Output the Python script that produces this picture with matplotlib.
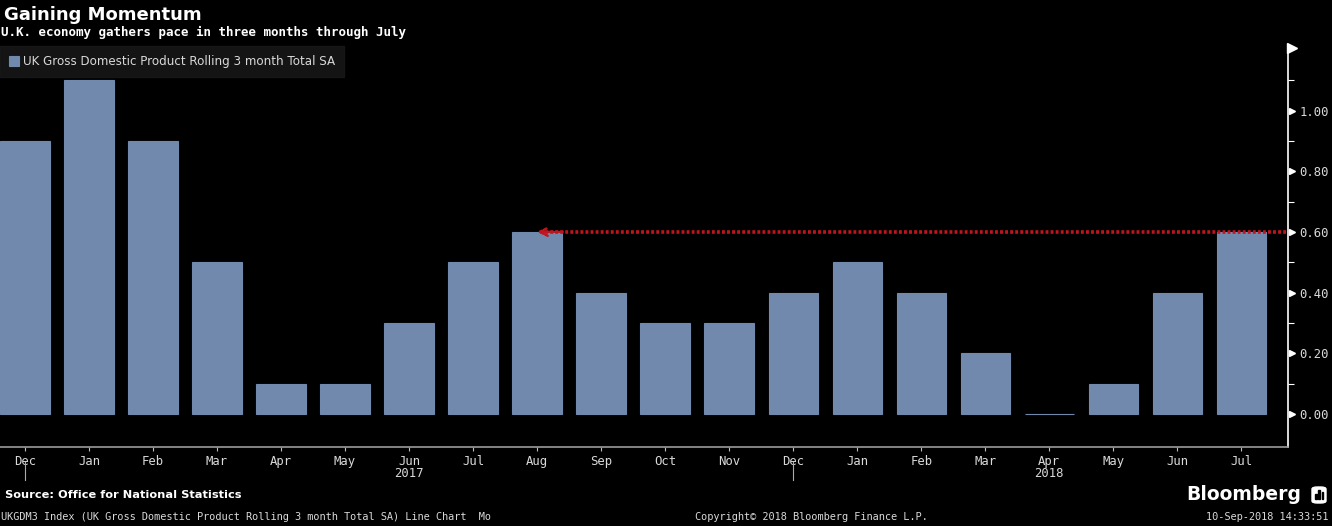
import numpy as np
import matplotlib
matplotlib.use("Agg")
import matplotlib.pyplot as plt
from matplotlib.patches import Rectangle, FancyBboxPatch
from matplotlib.transforms import blended_transform_factory

# data: rolling 3-month GDP growth, Dec 2016 .. Jul 2018
months = ["Dec", "Jan", "Feb", "Mar", "Apr", "May", "Jun", "Jul", "Aug", "Sep",
          "Oct", "Nov", "Dec", "Jan", "Feb", "Mar", "Apr", "May", "Jun", "Jul"]
values = [0.9, 1.1, 0.9, 0.5, 0.1, 0.1, 0.3, 0.5, 0.6, 0.4,
          0.3, 0.3, 0.4, 0.5, 0.4, 0.2, 0.0, 0.1, 0.4, 0.6]
year_labels = ["2017", "2018"]
year_label_pos = [6, 16]
year_breaks = [0, 12]
y_ticks = [0.0, 0.2, 0.4, 0.6, 0.8, 1.0]
ref_level = 0.6
ref_from = 8

BG = "#000000"
BAR = "#7189ad"
TXT = "#d9d9d9"
RED = "#c0151e"
MONO = "DejaVu Sans Mono"

W, H = 1332, 526
fig = plt.figure(figsize=(W / 100, H / 100), dpi=100)
fig.patch.set_facecolor(BG)
ax = fig.add_axes([0, 1 - 447 / H, 1288 / W, (447 - 48) / H])
ax.set_facecolor(BG)

x = np.arange(len(values))
bars = ax.bar(x, values, width=0.77, color=BAR, edgecolor=BAR, linewidth=0.8,
              label="UK Gross Domestic Product Rolling 3 month Total SA", zorder=2)

ax.set_xlim(-0.39, 19.73)
ax.set_ylim(-0.109, 1.206)

# spines
for s in ["top", "left"]:
    ax.spines[s].set_visible(False)
ax.spines["right"].set_color("white")
ax.spines["right"].set_linewidth(1.2)
ax.spines["bottom"].set_color("#9a9a9a")
ax.spines["bottom"].set_linewidth(1.2)

# y axis on the right
ax.yaxis.tick_right()
ax.set_yticks(y_ticks)
ax.set_yticklabels([f"{v:.2f}" for v in y_ticks], fontsize=8.8, color=TXT, family=MONO)
ax.set_yticks(np.arange(0.1, 1.2, 0.2), minor=True)
ax.tick_params(axis="y", which="major", length=0, pad=8)
ax.tick_params(axis="y", which="minor", length=4, color="white", direction="out", width=0.8)
ytr = blended_transform_factory(ax.transAxes, ax.transData)
ax.plot([1.003] * len(y_ticks), y_ticks, marker=">", ms=4.5, color="white", lw=0,
        transform=ytr, clip_on=False, zorder=5)
ax.plot([1.003], [1.0], marker=">", ms=6.5, color="white", lw=0,
        transform=ax.transAxes, clip_on=False, zorder=5)

# x axis
ax.set_xticks(x)
ax.set_xticklabels(months, fontsize=8.8, color=TXT, family=MONO)
ax.tick_params(axis="x", length=3, color="#bbbbbb", direction="out", pad=3)

xtr = blended_transform_factory(ax.transData, ax.transAxes)
for xb in year_breaks:
    ax.plot([xb, xb], [-0.038, -0.083], color="#aaaaaa", lw=0.8,
            transform=xtr, clip_on=False)
for lab, xp in zip(year_labels, year_label_pos):
    ax.text(xp, -0.066, lab, transform=xtr, ha="center", va="center",
            fontsize=8.8, color=TXT, family=MONO)

# reference line at latest level
ax.plot([ref_from + 0.05, 19.73], [ref_level, ref_level], color=RED, lw=2.6,
        linestyle=(0, (0.8, 0.6)), zorder=4, solid_capstyle="butt")
ax.annotate("", xy=(ref_from + 0.0, ref_level), xytext=(ref_from + 0.4, ref_level),
            arrowprops=dict(arrowstyle="->", color=RED, lw=1.8, linestyle=(0, (1, 0.8)),
                            mutation_scale=14, shrinkA=0, shrinkB=0),
            zorder=4)

# legend
leg = fig.legend(handles=[bars], loc="upper left", bbox_to_anchor=(0.0, 1 - 46 / H),
                 frameon=True, facecolor="#1a1a1a", edgecolor="#1a1a1a", fancybox=False,
                 fontsize=8.6, handlelength=0.8, handleheight=0.9, handletextpad=0.4,
                 borderpad=0.75, borderaxespad=0)
for t in leg.get_texts():
    t.set_color(TXT)

# titles
fig.text(4 / W, 1 - 15 / H, "Gaining Momentum", fontsize=13, fontweight="bold",
         color="white", va="center", ha="left")
fig.text(1 / W, 1 - 32 / H, "U.K. economy gathers pace in three months through July",
         fontsize=9, fontweight="bold", color="white", va="center", ha="left", family=MONO)

# footer
fig.text(5 / W, 1 - 495 / H, "Source: Office for National Statistics", fontsize=8.2,
         fontweight="bold", color="white", va="center", ha="left")
fig.text(1 / W, 1 - 517 / H,
         "UKGDM3 Index (UK Gross Domestic Product Rolling 3 month Total SA) Line Chart  Mo",
         fontsize=7.4, color=TXT, va="center", ha="left", family=MONO)
fig.text(811 / W, 1 - 517 / H, "Copyright\u00a9 2018 Bloomberg Finance L.P.",
         fontsize=7.4, color=TXT, va="center", ha="center", family=MONO)
fig.text(1329 / W, 1 - 517 / H, "10-Sep-2018 14:33:51",
         fontsize=7.4, color=TXT, va="center", ha="right", family=MONO)
fig.text(1301 / W, 1 - 494 / H, "Bloomberg", fontsize=13.5, fontweight="bold",
         color="white", va="center", ha="right")

# small logo icon
fig.patches.append(FancyBboxPatch((1312 / W, 1 - 503 / H), 14 / W, 16 / H,
                                  boxstyle="round,pad=0,rounding_size=0.004",
                                  transform=fig.transFigure, color="white"))
for i, hgt in enumerate([5, 9, 7]):
    fig.patches.append(Rectangle(((1315 + i * 3.3) / W, 1 - 499 / H), 1.8 / W, hgt / H,
                                 transform=fig.transFigure, color="black"))

fig.savefig("out.png", dpi=100, facecolor=fig.get_facecolor())
